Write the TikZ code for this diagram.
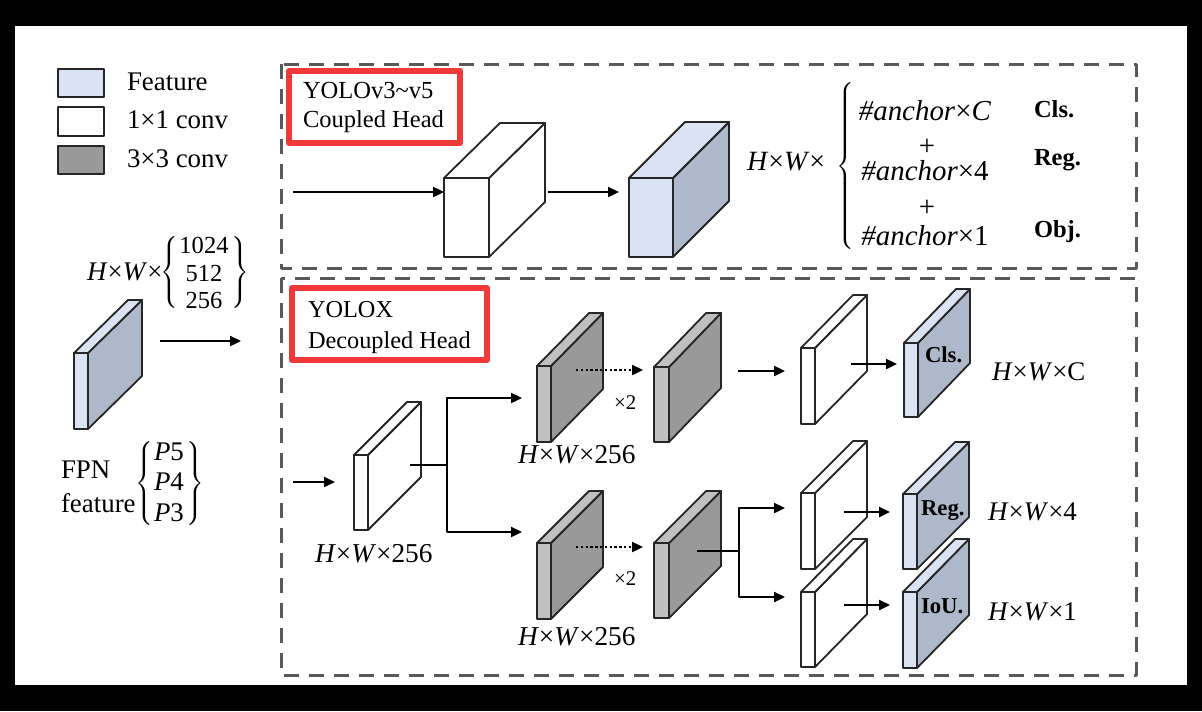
\documentclass[tikz,border=0pt]{standalone}
\usepackage{fix-cm}
\usepackage{fontspec}
\setmainfont{Liberation Serif}
\usetikzlibrary{arrows.meta}
\definecolor{featfront}{HTML}{DAE3F3}
\definecolor{featside}{HTML}{ADB9CA}
\definecolor{feattop}{HTML}{DAE3F3}
\definecolor{grayfront}{HTML}{C0C0C0}
\definecolor{grayside}{HTML}{999999}
\definecolor{graytop}{HTML}{C0C0C0}
\definecolor{whitefront}{HTML}{FFFFFF}
\definecolor{whiteside}{HTML}{FFFFFF}
\definecolor{whitetop}{HTML}{FFFFFF}
\definecolor{edgec}{HTML}{262626}
\definecolor{dashc}{HTML}{595959}
\definecolor{redc}{HTML}{F03A3A}
\newcommand\fsz[1]{\fontsize{#1}{#1}\selectfont}
\newcommand\hwx{\textit{H}×\textit{W}×}
\newcommand\lbr[1]{$\nulldelimiterspace=0pt\left\{\vcenter{\hbox{\rule{0pt}{#1}}}\right.$}
\newcommand\rbr[1]{$\nulldelimiterspace=0pt\left.\vcenter{\hbox{\rule{0pt}{#1}}}\right\}$}
\newcommand\slabdraw[8]{%
  \coordinate (#1) at (#2,#3);
  \filldraw[edge,fill=#8front] (#2,#3) rectangle ++(#4,#5);
  \filldraw[edge,fill=#8side] (#2+#4,#3) -- ++(#6,-#7) -- ++(0,#5) -- ++(-#6,#7) -- cycle;
  \filldraw[edge,fill=#8top] (#2,#3) -- ++(#6,-#7) -- ++(#4,0) -- ++(-#6,#7) -- cycle;
}
\begin{document}
\begin{tikzpicture}[x=0.5bp,y=-0.5bp,line join=round,
  edge/.style={draw=edgec,line width=0.9bp},
  arr/.style={-{Triangle[length=5.5bp,width=5bp]},line width=1.15bp,draw=black},
  darr/.style={arr,dash pattern=on 1.2bp off 1.2bp},
  lbl/.style={inner sep=0pt,outer sep=0pt},
  dbox/.style={draw=dashc,line width=1.5bp,dash pattern=on 7.5bp off 5bp},
  rbox/.style={draw=redc,line width=3.25bp},
  lgbox/.style={draw=edgec,line width=1bp}]
\fill[black] (0,0) rectangle (1202,711);
\fill[white] (15,26) rectangle (1187,685);
\useasboundingbox (0,0) rectangle (1202,711);

% legend
\filldraw[lgbox,fill=featfront] (58,69) rectangle (104,97);
\filldraw[lgbox,fill=white] (58,107) rectangle (104,136);
\filldraw[lgbox,fill=grayside] (58,146) rectangle (104,174);
\node[lbl,anchor=base west] (lgF) at (127,90) {\fsz{13.5}Feature};
\node[lbl,anchor=base west] (lg1) at (127,128) {\fsz{13.5}1×1 conv};
\node[lbl,anchor=base west] (lg3) at (127,167) {\fsz{13.5}3×3 conv};

% dashed boxes
\draw[dbox] (281,64) rectangle (1136,268);
\draw[dbox] (281,278) rectangle (1136,675);

% red title boxes
\draw[rbox] (289,71) rectangle (460,143);
\node[lbl,anchor=base west] (t1a) at (303,98) {\fsz{12.3}YOLOv3\textasciitilde v5};
\node[lbl,anchor=base west] (t1b) at (303,127) {\fsz{12.3}Coupled Head};
\draw[rbox] (292,288) rectangle (487,360);
\node[lbl,anchor=base west] (t2a) at (308,317) {\fsz{12.2}YOLOX};
\node[lbl,anchor=base west] (t2b) at (308,348) {\fsz{12.2}Decoupled Head};

% FPN feature
\slabdraw{fpnS}{74}{353}{14}{76}{54}{53}{feat}
\node[lbl,anchor=base west] (fpnhw) at (87,280) {\fsz{13.5}\hwx};
\node[lbl,anchor=base] (n1024) at (204,253) {\fsz{12.3}1024};
\node[lbl,anchor=base] (n512) at (204,281) {\fsz{12.3}512};
\node[lbl,anchor=base] (n256) at (204,308) {\fsz{12.3}256};
\node[lbl,anchor=east] (bl1) at (178,272.5) {\fsz{13}\lbr{35.5bp}};
\node[lbl,anchor=west] (br1) at (231,272.5) {\fsz{13}\rbr{35.5bp}};
\node[lbl,anchor=base west] (fpnT) at (61,478) {\fsz{13.5}FPN};
\node[lbl,anchor=base west] (featT) at (61,512) {\fsz{13.5}feature};
\node[lbl,anchor=base] (p5) at (169,460) {\fsz{13.5}\textit{P}5};
\node[lbl,anchor=base] (p4) at (169,490) {\fsz{13.5}\textit{P}4};
\node[lbl,anchor=base] (p3) at (169,521) {\fsz{13.5}\textit{P}3};
\node[lbl,anchor=east] (bl2) at (153,483.5) {\fsz{13}\lbr{41.5bp}};
\node[lbl,anchor=west] (br2) at (186,483.5) {\fsz{13}\rbr{41.5bp}};
\coordinate (fpnA) at (160,341);
\coordinate (fpnB) at (241,341);
\draw[arr] (fpnA) -- (fpnB);

% coupled head
\slabdraw{cubeA}{444}{178}{45}{79}{56}{55}{white}
\slabdraw{cubeB}{629}{178}{44}{79}{56}{56}{feat}
\coordinate (cin0) at (293,192);
\coordinate (cin1) at (444,192);
\coordinate (cmid0) at (548,192);
\coordinate (cmid1) at (619,192);
\draw[arr] (cin0) -- (cin1);
\draw[arr] (cmid0) -- (cmid1);
\node[lbl,anchor=base west] (chw) at (747,170) {\fsz{14}\hwx};
\node[lbl,anchor=west] (cbrace) at (836,166) {\fsz{14.5}\lbr{84bp}};
\node[lbl,anchor=base] (anc1) at (925,120) {\fsz{14.5}\textit{\#anchor}×\textit{C}};
\node[lbl] (plus1) at (927,147) {\fsz{14.5}+};
\node[lbl,anchor=base] (anc2) at (925,180) {\fsz{14.5}\textit{\#anchor}×4};
\node[lbl] (plus2) at (927,208) {\fsz{14.5}+};
\node[lbl,anchor=base] (anc3) at (925,245) {\fsz{14.5}\textit{\#anchor}×1};
\node[lbl,anchor=base west] (cCls) at (1034,117) {\fsz{12.3}\textbf{Cls.}};
\node[lbl,anchor=base west] (cReg) at (1034,165) {\fsz{12.3}\textbf{Reg.}};
\node[lbl,anchor=base west] (cObj) at (1034,237) {\fsz{12.3}\textbf{Obj.}};

% decoupled head slabs
\slabdraw{stem}{354}{455}{14}{75}{53}{53}{white}
\slabdraw{gU1}{537}{366}{14}{76}{52}{53}{gray}
\slabdraw{gL1}{537}{543}{14}{76}{52}{52}{gray}
\slabdraw{gU2}{654}{367}{15}{75}{52}{54}{gray}
\slabdraw{gL2}{654}{543}{15}{75}{52}{52}{gray}
\slabdraw{wCls}{801}{348}{14}{76}{52}{53}{white}
\slabdraw{fCls}{904}{343}{14}{74}{52}{54}{feat}
\slabdraw{wReg}{801}{493}{14}{76}{52}{52}{white}
\slabdraw{fReg}{903}{494}{14}{75}{52}{52}{feat}
\slabdraw{wIoU}{801}{592}{14}{75}{52}{53}{white}
\slabdraw{fIoU}{903}{592}{14}{76}{52}{53}{feat}

% decoupled head connectors
\coordinate (sIn0) at (293,482);
\coordinate (sIn1) at (335,482);
\draw[arr] (sIn0) -- (sIn1);
\coordinate (sOut) at (410,465);
\coordinate (split1) at (447,465);
\coordinate (up1in) at (522,398);
\coordinate (lo1in) at (522,532);
\draw[line width=1.15bp] (sOut) -- (split1);
\draw[arr] (split1) |- (up1in);
\draw[arr] (split1) |- (lo1in);
\coordinate (dU0) at (576,370);
\coordinate (dU1) at (643,370);
\coordinate (dL0) at (576,547);
\coordinate (dL1) at (643,547);
\draw[darr] (dU0) -- (dU1);
\draw[darr] (dL0) -- (dL1);
\node[lbl,anchor=base west] (x2u) at (614,409) {\fsz{10.5}×2};
\node[lbl,anchor=base west] (x2l) at (614,585) {\fsz{10.5}×2};
\coordinate (uA0) at (738,371);
\coordinate (uA1) at (785,371);
\draw[arr] (uA0) -- (uA1);
\coordinate (clsA0) at (851,364);
\coordinate (clsA1) at (897,364);
\draw[arr] (clsA0) -- (clsA1);
\coordinate (lOut) at (697,551);
\coordinate (split2) at (739,551);
\coordinate (regIn) at (785,508);
\coordinate (iouIn) at (785,597);
\draw[line width=1.15bp] (lOut) -- (split2);
\draw[arr] (split2) |- (regIn);
\draw[arr] (split2) |- (iouIn);
\coordinate (regA0) at (844,512);
\coordinate (regA1) at (890,512);
\draw[arr] (regA0) -- (regA1);
\coordinate (iouA0) at (844,605);
\coordinate (iouA1) at (890,605);
\draw[arr] (iouA0) -- (iouA1);

% labels
\node[lbl,anchor=base west] (hwStem) at (315,562) {\fsz{13.7}\hwx 256};
\node[lbl,anchor=base west] (hwU) at (518,463) {\fsz{13.7}\hwx 256};
\node[lbl,anchor=base west] (hwL) at (518,645) {\fsz{13.7}\hwx 256};
\node[lbl,anchor=base west] (tCls) at (925,362) {\fsz{11.4}\textbf{Cls.}};
\node[lbl,anchor=base west] (tReg) at (921,515) {\fsz{11.4}\textbf{Reg.}};
\node[lbl,anchor=base west] (tIoU) at (921,613) {\fsz{11.4}\textbf{IoU.}};
\node[lbl,anchor=base west] (hwC) at (992,380) {\fsz{13.5}\hwx C};
\node[lbl,anchor=base west] (hw4) at (988,520) {\fsz{13.5}\hwx 4};
\node[lbl,anchor=base west] (hw1) at (988,620) {\fsz{13.5}\hwx 1};
\end{tikzpicture}
\end{document}
